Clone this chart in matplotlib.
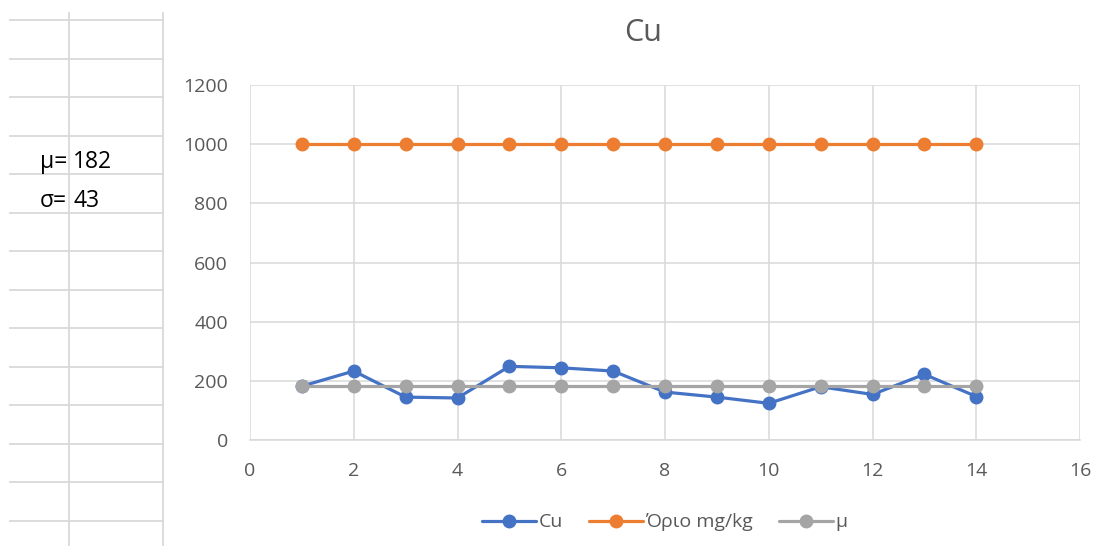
import matplotlib
matplotlib.use("Agg")
import matplotlib.pyplot as plt

plt.rcParams['font.family'] = ['Open Sans', 'DejaVu Sans']

# Sample index and measured values
samples = [1, 2, 3, 4, 5, 6, 7, 8, 9, 10, 11, 12, 13, 14]
cu = [182, 233, 145, 142, 249, 244, 233, 162, 145, 124, 180, 154, 222, 147]
limit = [1000] * 14
mean_val = 182
std_val = 43
mu_line = [mean_val] * 14

title = "Cu"
series_names = ["Cu", "Όριο mg/kg", "μ"]
colors = ["#4472C4", "#ED7D31", "#A5A5A5"]
xticks = [0, 2, 4, 6, 8, 10, 12, 14, 16]
yticks = [0, 200, 400, 600, 800, 1000, 1200]

W, H = 1096, 546
fig = plt.figure(figsize=(W / 100, H / 100), dpi=100)
fig.patch.set_facecolor("white")

# Worksheet cell grid on the left
bg = fig.add_axes([0, 0, 1, 1], zorder=0)
bg.set_xlim(0, W)
bg.set_ylim(H, 0)
bg.axis("off")
grid_c = "#d9d9d9"
row_y = [20 + 38.5 * i for i in range(14)]
for y in row_y:
    bg.plot([10, 163], [y, y], color=grid_c, lw=1.3)
for x in [69, 163]:
    bg.plot([x, x], [13, H], color=grid_c, lw=1.3)
cell_font = dict(fontsize=16.5, color="#000000", va="center")
bg.text(67, 162, "μ=", ha="right", **cell_font)
bg.text(73, 162, f"{mean_val}", ha="left", **cell_font)
bg.text(67, 201, "σ=", ha="right", **cell_font)
bg.text(73, 201, f"{std_val}", ha="left", **cell_font)

# Chart
ax = fig.add_axes([250 / W, 1 - 440 / H, 830 / W, 355 / H], zorder=1)
ax.set_facecolor("none")
for s, c, name in zip([cu, limit, mu_line], colors, series_names):
    ax.plot(samples, s, color=c, lw=2.3, marker="o", markersize=9, label=name,
            solid_capstyle="round")

ax.set_xlim(0, 16)
ax.set_ylim(0, 1200)
ax.set_xticks(xticks)
ax.set_yticks(yticks)
ax.grid(True, color="#d9d9d9", lw=1.1)
ax.set_axisbelow(True)
for side in ["top", "right", "left"]:
    ax.spines[side].set_visible(False)
ax.spines["bottom"].set_color("#d9d9d9")
ax.spines["bottom"].set_linewidth(1.1)
ax.tick_params(length=0, labelsize=14, labelcolor="#595959")
ax.tick_params(axis="y", pad=16)
ax.tick_params(axis="x", pad=16)

fig.text(643 / W, 1 - 33 / H, title, ha="center", va="center", fontsize=22, color="#595959")

leg = ax.legend(loc="center", bbox_to_anchor=(0.5, -0.232), ncol=3, frameon=False,
                fontsize=14, handlelength=2.75, columnspacing=1.35, handletextpad=0.15)
for t in leg.get_texts():
    t.set_color("#595959")

fig.savefig("out.png", dpi=100, facecolor="white")
